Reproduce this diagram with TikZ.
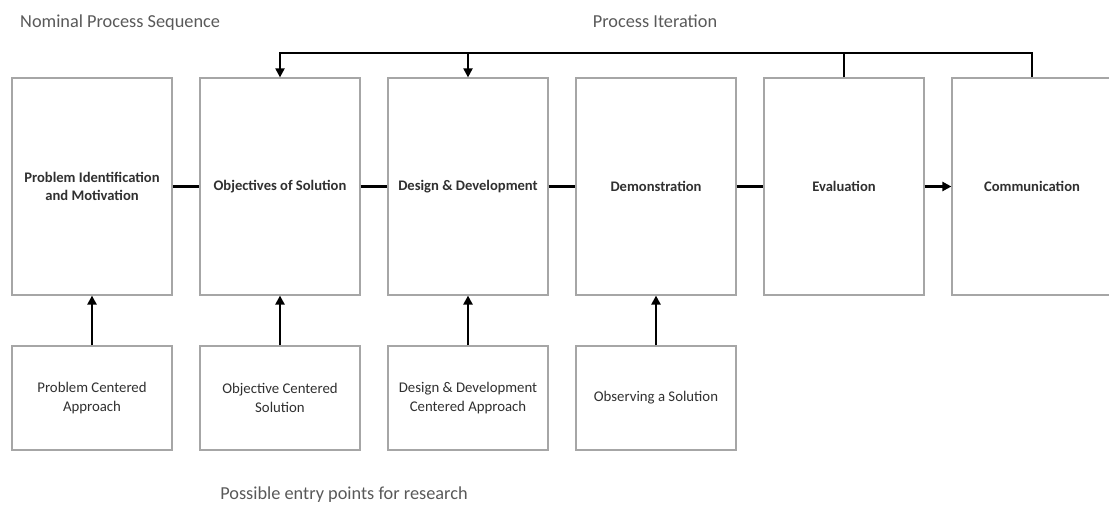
\documentclass[tikz,border=0pt]{standalone}
\usepackage{fontspec}
\setmainfont{Carlito}
\usetikzlibrary{arrows.meta}
\definecolor{boxgray}{HTML}{A6A6A6}
\definecolor{labelgray}{HTML}{303030}
\definecolor{headgray}{HTML}{595959}
\begin{document}
\begin{tikzpicture}[x=1pt,y=-1pt,
  stage/.style={draw=boxgray, line width=1.2pt, fill=white, minimum width=160pt,
    minimum height=217pt, inner sep=0pt, align=center, text=labelgray,
    font=\fontsize{14.6}{18}\selectfont\bfseries},
  entry/.style={draw=boxgray, line width=1.2pt, fill=white, minimum width=160pt,
    minimum height=104pt, inner sep=0pt, align=center, text=labelgray,
    font=\fontsize{14.8}{19}\selectfont},
  heading/.style={text=headgray, inner sep=0pt, font=\fontsize{18.3}{22}\selectfont},
  link/.style={line width=2.6pt, black},
  iter/.style={line width=2pt, black, line join=miter},
  tip/.style={-{Triangle[width=9pt,length=9pt]}}]
\useasboundingbox (0,0) rectangle (1109,505);
\clip (0,0) rectangle (1109,505);

% headings
\node[heading, anchor=base west] (nps) at (20,28) {Nominal Process Sequence};
\node[heading, anchor=base] (pit) at (655,28) {Process Iteration};
\node[heading, anchor=base] (pep) at (344,499) {Possible entry points for research};

% process stages
\node[stage] (s1) at (92,186.5)   {Problem Identification\\and Motivation};
\node[stage] (s2) at (280,186.5)  {Objectives of Solution};
\node[stage] (s3) at (468,186.5)  {Design \& Development};
\node[stage] (s4) at (656,186.5)  {Demonstration};
\node[stage] (s5) at (844,186.5)  {Evaluation};
\node[stage] (s6) at (1032,186.5) {Communication};

% entry points
\node[entry] (e1) at (92,398)  {Problem Centered\\Approach};
\node[entry] (e2) at (280,398) {Objective Centered\\Solution};
\node[entry] (e3) at (468,398) {Design \& Development\\Centered Approach};
\node[entry] (e4) at (656,398) {Observing a Solution};

% nominal sequence
\draw[link] (s1.east) -- (s2.west);
\draw[link] (s2.east) -- (s3.west);
\draw[link] (s3.east) -- (s4.west);
\draw[link] (s4.east) -- (s5.west);
\draw[link, tip] (s5.east) -- (s6.west);

% entry arrows
\draw[link, tip] (e1.north) -- (s1.south);
\draw[link, tip] (e2.north) -- (s2.south);
\draw[link, tip] (e3.north) -- (s3.south);
\draw[link, tip] (e4.north) -- (s4.south);

% iteration feedback
\coordinate (bar) at (280,53);
\draw[iter, tip] (s6.north) -- (s6.north |- bar) -- (s2.north |- bar) -- (s2.north);
\draw[iter] (s5.north) -- (s5.north |- bar);
\draw[iter, tip] (s3.north |- bar) -- (s3.north);
\end{tikzpicture}
\end{document}
